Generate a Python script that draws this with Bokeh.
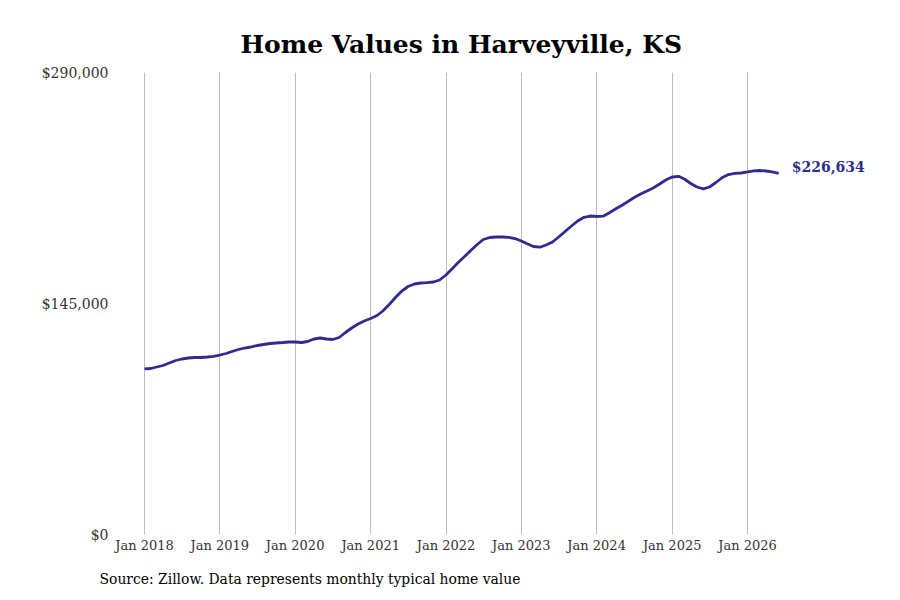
import pandas as pd

from bokeh.models import (FixedTicker, NumeralTickFormatter, DatetimeTickFormatter,
                          Label, Title, Range1d)
from bokeh.plotting import figure
from bokeh.embed import file_html
from bokeh.resources import INLINE


start_month = "2018-01-01"

# monthly typical home value, Jan 2018 .. Jun 2026
values = [
    103900, 104200, 105140, 106080, 107650, 109220, 110160, 110790, 111100, 111100, 111420, 111860,
    112670, 113610, 114870, 116120, 117060, 117690, 118640, 119260, 119890, 120210, 120520, 120830,
    120830, 120520, 121150, 122720, 123340, 122720, 122400, 123660, 126800, 129620, 132130, 134010,
    135580, 137470, 140290, 144370, 148760, 152840, 155670, 157240, 157870, 158050, 158490, 159750,
    162890, 166970, 170730, 174500, 178270, 182030, 185170, 186430, 186740, 186740, 186550, 185800,
    184230, 182350, 180780, 180340, 181720, 183600, 186740, 190190, 193640, 196780, 199110, 199920,
    199610, 199800, 201810, 204320, 206510, 209020, 211530, 213730, 215620, 217500, 220010, 222520,
    224400, 224850, 223150, 220320, 218130, 217000, 218130, 220950, 224090, 225970, 226730, 226920,
    227550, 228300, 228480, 228170, 227670, 226634,
]
dates = pd.date_range(start_month, periods=len(values), freq="MS")

y_ticks = [0, 145000, 290000]
x_tick_years = list(range(2018, 2027))

title_text = "Home Values in Harveyville, KS"
source_text = "Source: Zillow. Data represents monthly typical home value"
end_label = "${:,}".format(values[-1])

line_color = "#2f2c8e"
serif = "DejaVu Serif"

# pixels: Jan 2018 sits at 144, Jan 2026 at 747 -> days per pixel
t0 = pd.Timestamp("2018-01-01")
t1 = pd.Timestamp("2026-01-01")
dpp = (t1 - t0).days / (747 - 144)
x_start = t0 - pd.Timedelta(days=32 * dpp)
x_end = t0 + pd.Timedelta(days=736 * dpp)

p = figure(
    width=884,
    height=600,
    x_axis_type="datetime",
    x_range=Range1d(x_start, x_end),
    y_range=Range1d(0, 290000),
    output_backend="svg",
    toolbar_location=None,
    min_border_left=112,
    min_border_right=4,
    min_border_top=72,
    min_border_bottom=66,
)

p.line(dates, values, line_color=line_color, line_width=2.8)

p.add_layout(Label(
    x=dates[-1], y=values[-1], text=end_label,
    x_offset=13, y_offset=6,
    text_baseline="middle", text_align="left",
    text_font=serif, text_font_style="bold", text_font_size="14px",
    text_color=line_color,
))

p.title.text = ""
p.add_layout(Title(text=title_text, align="left", offset=128,
                   text_font=serif, text_font_style="bold",
                   text_font_size="25px", text_color="black",
                   standoff=28), "above")
p.add_layout(Title(text=source_text, align="left", offset=-13,
                   text_font=serif, text_font_style="normal",
                   text_font_size="13.9px", text_color="black",
                   standoff=27), "below")

p.xaxis.ticker = FixedTicker(ticks=[pd.Timestamp(f"{yr}-01-01").value / 1e6 for yr in x_tick_years])
p.xaxis.formatter = DatetimeTickFormatter(
    years="%b %Y", months="%b %Y", days="%b %Y", hours="%b %Y")
p.yaxis.ticker = FixedTicker(ticks=y_ticks)
p.yaxis.formatter = NumeralTickFormatter(format="$0,0")

for ax in (p.xaxis, p.yaxis):
    ax.axis_line_color = None
    ax.major_tick_line_color = None
    ax.minor_tick_line_color = None
    ax.major_tick_out = 0
    ax.major_tick_in = 0
    ax.minor_tick_out = 0
    ax.major_label_text_font = serif
    ax.major_label_text_color = "#333333"
p.xaxis.major_label_text_font_size = "13px"
p.yaxis.major_label_text_font_size = "14px"
p.xaxis.major_label_standoff = 3
p.yaxis.major_label_standoff = 4

p.xgrid.grid_line_color = "#bbbbbb"
p.xgrid.grid_line_width = 1
p.ygrid.grid_line_color = None
p.outline_line_color = None
p.background_fill_color = "white"
p.border_fill_color = "white"

open("out.html", "w").write(file_html(p, INLINE))
